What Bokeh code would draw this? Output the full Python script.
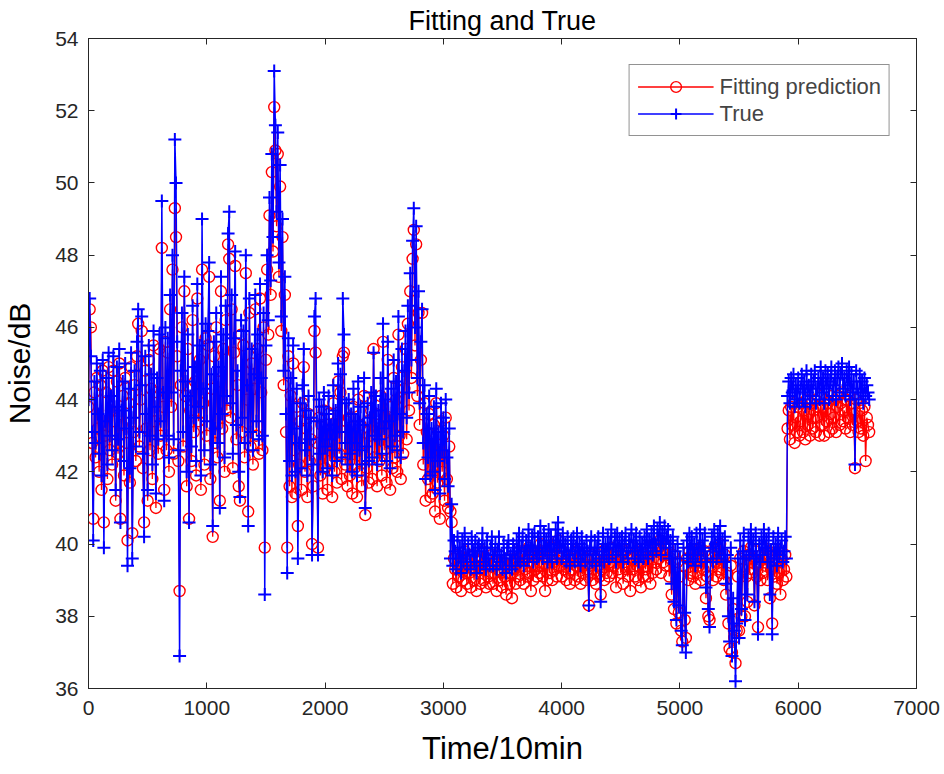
import numpy as np
from bokeh.plotting import figure
from bokeh.models import Range1d, LinearAxis, SingleIntervalTicker, Legend, LegendItem
from bokeh.embed import file_html
from bokeh.resources import INLINE

# sampling step of the series (Time/10min units)
time_step = 10

true_vals = [
    44.0, 46.8, 45.2, 43.1, 40.1, 44.5, 42.8, 45.0, 43.6, 42.5,
    44.8, 41.9, 45.1, 39.9, 43.4, 44.6, 42.2, 45.3, 43.0, 44.1,
    42.6, 45.2, 43.8, 41.5, 44.9, 42.9, 45.4, 40.6, 43.7, 44.5,
    42.3, 45.0, 43.2, 39.4, 44.3, 42.1, 45.3, 39.6, 43.5, 44.8,
    42.7, 45.6, 46.5, 43.1, 44.4, 46.3, 42.5, 40.2, 45.2, 43.6,
    41.5, 45.5, 43.0, 44.7, 42.2, 45.9, 43.8, 41.4, 44.6, 42.9,
    45.8, 43.4, 49.5, 44.2, 41.2, 46.0, 43.0, 45.7, 42.4, 46.9,
    44.2, 48.0, 42.9, 51.2, 50.0, 45.6, 42.6, 36.9, 44.8, 46.4,
    43.1, 47.4, 44.5, 42.0, 45.8, 40.6, 44.1, 42.7, 46.6, 43.5,
    44.9, 42.3, 47.2, 43.8, 45.5, 41.9, 49.0, 44.3, 42.6, 46.1,
    43.4, 45.9, 47.8, 42.2, 44.7, 40.5, 45.6, 43.2, 46.4, 42.8,
    44.9, 41.0, 47.4, 43.6, 45.8, 42.4, 46.6, 44.1, 48.6, 49.2,
    43.9, 46.9, 42.5, 45.7, 48.1, 43.3, 44.8, 42.0, 41.3, 46.2,
    43.5, 45.9, 42.8, 48.0, 44.4, 40.5, 46.8, 43.1, 45.4, 42.6,
    44.7, 46.9, 43.4, 45.8, 42.9, 47.2, 44.6, 43.0, 46.4, 38.6,
    45.5, 48.0, 46.2, 49.6, 47.3, 50.8, 48.5, 53.1, 51.6, 49.2,
    51.4, 47.8, 50.5, 46.3, 49.0, 44.8, 47.4, 43.6, 39.2, 45.7,
    42.3, 44.6, 41.9, 45.5, 43.2, 42.0, 44.3, 39.6, 42.8, 43.9,
    42.1, 44.4, 45.4, 42.6, 43.7, 41.9, 44.1, 42.9, 43.5, 39.7,
    42.2, 46.3, 46.8, 43.4, 39.7, 44.0, 42.5, 43.8, 42.0, 44.2,
    42.7, 43.6, 42.1, 44.1, 42.9, 43.3, 41.9, 44.4, 42.6, 43.7,
    42.3, 45.0, 43.1, 44.7, 42.4, 46.8, 45.8, 42.8, 43.9, 42.2,
    44.0, 42.5, 43.6, 42.0, 44.3, 42.8, 43.4, 41.9, 44.5, 42.6,
    43.8, 42.2, 43.3, 44.6, 41.0, 42.7, 43.9, 42.3, 43.5, 44.2,
    42.4, 45.3, 43.0, 44.1, 42.2, 43.7, 42.9, 44.6, 42.5, 46.1,
    43.2, 44.0, 42.3, 45.6, 43.4, 42.1, 44.3, 42.7, 45.1, 43.0,
    44.5, 42.6, 46.3, 43.6, 42.4, 45.4, 43.1, 44.8, 45.9, 43.5,
    46.6, 44.2, 47.5, 45.1, 48.4, 49.3, 46.0, 48.8, 44.6, 47.0,
    43.9, 45.6, 46.5, 42.8, 44.4, 41.8, 43.6, 42.4, 44.1, 41.9,
    43.2, 42.0, 43.8, 41.5, 44.3, 42.3, 43.1, 41.4, 43.9, 42.6,
    43.5, 41.8, 44.0, 42.4, 41.6, 43.2, 39.6, 41.1, 39.4, 40.1,
    39.8, 39.3, 40.2, 39.6, 39.9, 39.2, 40.1, 39.5, 40.3, 39.7,
    39.4, 40.0, 39.7, 39.3, 40.2, 39.8, 39.5, 40.1, 39.2, 39.9,
    40.0, 39.4, 39.8, 40.3, 39.5, 39.9, 39.3, 40.1, 39.6, 39.4,
    39.9, 40.2, 39.4, 39.7, 40.0, 39.3, 39.8, 40.2, 39.5, 39.7,
    39.3, 40.0, 39.6, 39.2, 39.9, 40.1, 39.4, 39.7, 39.3, 40.0,
    39.8, 39.4, 40.1, 39.6, 40.3, 39.5, 39.9, 40.2, 39.4, 39.8,
    40.1, 39.6, 40.4, 39.7, 39.9, 40.2, 39.5, 40.3, 39.8, 39.6,
    40.2, 39.7, 40.5, 39.9, 39.6, 40.3, 39.8, 40.1, 39.5, 40.4,
    39.7, 40.2, 39.5, 40.0, 39.8, 40.4, 39.6, 40.6, 39.9, 40.1,
    39.6, 40.3, 39.8, 40.0, 39.5, 40.2, 39.7, 39.4, 40.1, 39.8,
    40.2, 39.5, 39.9, 40.3, 39.6, 40.0, 39.4, 40.2, 39.7, 39.9,
    39.5, 40.1, 39.8, 38.3, 39.9, 40.2, 39.5, 39.7, 40.1, 39.4,
    39.9, 40.2, 39.6, 38.4, 39.8, 40.3, 39.5, 40.0, 39.7, 40.2,
    39.6, 40.0, 40.4, 39.7, 39.9, 40.2, 39.5, 40.3, 39.8, 40.1,
    39.7, 40.2, 39.5, 40.0, 40.3, 39.8, 39.6, 40.1, 39.9, 40.4,
    39.8, 40.1, 39.6, 40.3, 39.9, 39.5, 40.2, 39.7, 40.0, 39.6,
    40.2, 39.8, 40.4, 39.6, 40.1, 39.9, 40.3, 39.7, 40.5, 40.0,
    39.8, 40.4, 40.1, 40.6, 39.7, 40.3, 40.0, 40.5, 39.9, 40.2,
    40.4, 39.6, 40.1, 38.9, 40.2, 38.4, 39.8, 37.9, 40.0, 38.3,
    39.6, 37.6, 37.2, 39.9, 38.1, 37.0, 40.1, 39.5, 40.3, 39.7,
    40.2, 39.6, 40.0, 39.4, 40.3, 39.7, 39.9, 40.4, 39.5, 40.1,
    39.8, 40.3, 38.8, 39.6, 38.2, 37.7, 39.9, 40.2, 39.5, 40.4,
    40.0, 39.6, 40.3, 39.8, 40.5, 39.7, 40.1, 39.5, 40.2, 38.9,
    39.7, 38.0, 37.3, 39.9, 36.9, 38.5, 37.6, 36.2, 37.8, 39.6,
    37.4, 40.1, 38.2, 39.8, 40.3, 37.9, 39.6, 38.6, 40.2, 39.7,
    40.4, 39.8, 40.1, 38.4, 40.3, 39.6, 37.5, 40.0, 39.5, 40.2,
    39.7, 40.4, 39.9, 40.1, 39.5, 40.3, 38.6, 39.8, 37.5, 40.2,
    39.6, 40.0, 39.4, 40.3, 39.7, 39.9, 40.1, 39.5, 39.8, 40.2,
    39.6, 44.1, 44.5, 43.9, 44.6, 44.2, 44.7, 43.8, 44.4, 44.0,
    44.6, 43.9, 44.3, 44.7, 44.0, 44.5, 43.8, 44.8, 44.2, 44.4,
    43.9, 44.7, 44.1, 44.5, 44.8, 43.9, 44.3, 44.6, 44.0, 44.9,
    44.2, 44.6, 43.9, 44.8, 44.3, 44.7, 44.0, 44.5, 44.9, 44.1,
    44.4, 44.8, 44.0, 44.6, 44.9, 44.2, 44.7, 45.0, 44.3, 44.6,
    44.1, 44.8, 44.4, 44.9, 44.0, 44.7, 44.2, 44.5, 42.2, 44.8,
    44.3, 44.0, 44.7, 44.2, 44.5, 43.9, 44.6, 44.1, 44.4, 44.2,
    44.0,
]

fit_vals = [
    43.8, 46.5, 46.0, 42.8, 40.7, 44.2, 42.4, 44.6, 43.2, 42.0,
    44.4, 41.5, 44.8, 40.6, 43.0, 44.2, 41.8, 44.9, 42.6, 43.7,
    42.2, 44.8, 43.4, 41.2, 44.5, 42.5, 45.0, 40.7, 43.3, 44.1,
    41.9, 44.6, 42.8, 40.1, 43.9, 41.7, 44.9, 40.3, 43.1, 44.4,
    42.3, 45.2, 46.1, 42.7, 44.0, 45.9, 42.1, 40.6, 44.8, 43.2,
    41.2, 45.1, 42.6, 44.3, 41.8, 45.5, 43.4, 41.0, 44.2, 42.5,
    45.4, 43.0, 48.2, 43.8, 41.5, 45.6, 42.6, 45.3, 42.0, 46.5,
    43.8, 47.6, 42.5, 49.3, 48.5, 45.2, 42.3, 38.7, 44.4, 46.0,
    42.7, 47.0, 44.1, 41.6, 45.4, 40.7, 43.7, 42.3, 46.2, 43.1,
    44.5, 41.9, 46.8, 43.4, 45.1, 41.5, 47.6, 43.9, 42.2, 45.7,
    43.0, 45.5, 47.4, 41.8, 44.3, 40.2, 45.2, 42.8, 46.0, 42.4,
    44.5, 41.2, 47.0, 43.2, 45.4, 42.0, 46.2, 43.7, 48.3, 47.9,
    43.5, 46.5, 42.1, 45.3, 47.7, 42.9, 44.4, 41.6, 41.2, 45.8,
    43.1, 45.5, 42.4, 47.5, 44.0, 40.9, 46.4, 42.7, 45.0, 42.2,
    44.3, 46.5, 43.0, 45.4, 42.5, 46.8, 44.2, 42.6, 46.0, 39.9,
    45.1, 47.6, 45.8, 49.1, 46.9, 50.3, 48.1, 52.1, 50.9, 48.8,
    50.8, 47.4, 49.9, 45.9, 48.5, 44.4, 46.9, 43.1, 39.9, 45.2,
    41.6, 44.1, 41.3, 45.0, 42.6, 41.4, 43.8, 40.5, 42.2, 43.4,
    41.5, 43.9, 44.9, 42.0, 43.2, 41.3, 43.6, 42.3, 42.9, 40.0,
    41.6, 45.9, 45.3, 42.8, 39.9, 43.5, 41.9, 43.3, 41.4, 43.7,
    42.1, 43.1, 41.5, 43.6, 42.3, 42.8, 41.3, 43.9, 42.0, 43.2,
    41.7, 44.5, 42.5, 44.2, 41.8, 45.2, 45.3, 42.2, 43.4, 41.6,
    43.5, 41.9, 43.1, 41.4, 43.8, 42.2, 42.9, 41.3, 44.0, 42.0,
    43.3, 41.6, 42.8, 44.1, 40.8, 42.1, 43.4, 41.7, 43.0, 43.7,
    41.8, 45.4, 42.4, 43.6, 41.6, 43.2, 42.3, 44.1, 41.9, 45.6,
    42.6, 43.5, 41.7, 45.1, 42.8, 41.5, 43.8, 42.1, 44.6, 42.4,
    44.0, 42.0, 45.8, 43.0, 41.8, 44.9, 42.5, 44.3, 45.4, 42.9,
    46.1, 43.7, 47.0, 44.6, 47.9, 48.7, 45.5, 48.3, 44.1, 46.4,
    43.3, 45.1, 46.4, 42.2, 43.9, 41.2, 43.1, 41.8, 43.6, 41.3,
    42.6, 41.4, 43.3, 40.9, 43.9, 41.7, 42.6, 40.7, 43.4, 42.0,
    43.0, 41.2, 43.5, 41.8, 41.0, 42.7, 40.9, 40.6, 38.9, 39.6,
    39.3, 38.8, 39.7, 39.1, 39.4, 38.7, 39.6, 39.0, 39.8, 39.2,
    38.9, 39.5, 39.2, 38.8, 39.7, 39.3, 39.0, 39.6, 38.7, 39.4,
    39.5, 38.9, 39.3, 39.8, 39.0, 39.4, 38.8, 39.6, 39.1, 38.9,
    39.4, 39.7, 38.9, 39.2, 39.5, 38.7, 39.3, 39.7, 39.0, 39.2,
    38.8, 39.5, 39.1, 38.6, 39.4, 39.6, 38.9, 39.2, 38.5, 39.5,
    39.3, 38.9, 39.6, 39.1, 39.8, 39.0, 39.4, 39.7, 38.9, 39.3,
    39.6, 39.1, 39.9, 39.2, 38.7, 39.7, 39.0, 39.8, 39.3, 39.1,
    39.7, 39.2, 40.0, 39.4, 39.1, 39.8, 38.7, 39.6, 39.0, 39.9,
    39.2, 39.7, 39.0, 39.5, 39.3, 39.9, 39.1, 40.1, 39.4, 39.6,
    39.1, 39.8, 39.3, 39.5, 39.0, 39.7, 39.2, 38.9, 39.6, 39.3,
    39.7, 39.0, 39.4, 39.8, 39.1, 39.5, 38.9, 39.7, 39.2, 39.4,
    39.0, 39.6, 39.3, 38.3, 39.4, 39.7, 39.0, 39.2, 39.6, 38.9,
    39.4, 39.7, 39.1, 38.6, 39.3, 39.8, 39.0, 39.5, 39.2, 39.7,
    39.1, 39.5, 39.9, 39.2, 39.4, 39.7, 38.8, 39.8, 39.3, 39.6,
    39.2, 39.7, 38.9, 39.5, 39.8, 39.3, 39.1, 39.6, 38.7, 39.9,
    39.3, 39.6, 39.1, 39.8, 39.4, 39.0, 39.7, 38.8, 39.5, 39.1,
    39.7, 39.3, 39.9, 39.1, 39.6, 38.9, 39.8, 39.2, 40.0, 39.5,
    39.3, 39.9, 39.6, 40.1, 39.2, 39.8, 39.5, 40.0, 39.4, 39.7,
    39.9, 39.1, 39.6, 38.6, 39.7, 38.2, 39.3, 37.8, 39.5, 38.1,
    39.1, 37.6, 37.3, 39.4, 37.9, 37.4, 39.6, 39.0, 39.8, 39.2,
    39.7, 39.1, 39.5, 38.9, 39.8, 39.2, 39.4, 39.9, 39.0, 39.6,
    39.3, 39.8, 38.5, 39.1, 38.0, 37.9, 39.4, 39.7, 39.0, 39.9,
    39.5, 39.1, 39.8, 39.3, 40.0, 39.2, 39.6, 39.0, 39.7, 38.6,
    39.2, 37.8, 37.1, 39.4, 37.0, 38.2, 37.4, 36.7, 37.6, 39.1,
    37.6, 39.6, 38.0, 39.3, 39.8, 38.0, 39.1, 38.4, 39.7, 39.2,
    39.9, 39.3, 39.6, 38.3, 39.8, 39.1, 37.7, 39.5, 39.0, 39.7,
    39.2, 39.9, 39.4, 39.6, 39.0, 39.8, 38.5, 39.3, 37.8, 39.7,
    39.1, 39.5, 38.9, 39.8, 39.2, 38.6, 39.6, 39.0, 39.3, 39.7,
    39.1, 43.2, 43.7, 42.9, 43.8, 43.3, 43.9, 42.8, 43.5, 43.1,
    43.8, 43.0, 43.4, 43.9, 43.1, 43.7, 42.9, 44.0, 43.3, 43.6,
    43.0, 43.9, 43.2, 43.7, 44.0, 43.1, 43.5, 43.8, 43.0, 44.1,
    43.3, 43.8, 43.0, 44.0, 43.4, 43.9, 43.1, 43.6, 44.1, 43.2,
    43.5, 44.0, 43.1, 43.8, 44.1, 43.3, 43.9, 44.2, 43.4, 43.7,
    43.2, 44.0, 43.5, 44.1, 43.1, 43.9, 43.3, 43.6, 42.1, 44.0,
    43.4, 43.1, 43.9, 43.2, 43.7, 43.0, 43.8, 42.3, 43.5, 43.3,
    43.1,
]

time_vals = np.arange(len(true_vals)) * time_step

title_text = "Fitting and True"
x_label = "Time/10min"
y_label = "Noise/dB"
legend_labels = ["Fitting prediction", "True"]

FONT = "Liberation Sans, Arial, sans-serif"
AXC = "#262626"

W, H = 944, 774
p = figure(width=W, height=H, output_backend="svg", toolbar_location=None,
           x_range=Range1d(0, 7000), y_range=Range1d(36, 54),
           min_border_left=88, min_border_right=28, min_border_top=37, min_border_bottom=86)
p.xgrid.visible = False
p.ygrid.visible = False
p.outline_line_color = AXC
p.outline_line_width = 1

p.title.text = title_text
p.title.align = "center"
p.title.text_font = FONT
p.title.text_font_size = "27px"
p.title.text_font_style = "normal"
p.title.text_color = "black"
p.title.standoff = 6

for ax in (p.xaxis[0], p.yaxis[0]):
    ax.major_tick_in = 6
    ax.major_tick_out = 0
    ax.minor_tick_in = 0
    ax.minor_tick_out = 0
    ax.axis_line_color = AXC
    ax.major_tick_line_color = AXC
    ax.major_label_text_font = FONT
    ax.major_label_text_font_size = "21px"
    ax.major_label_text_color = AXC
    ax.axis_label_text_font = FONT
    ax.axis_label_text_font_style = "normal"
    ax.axis_label_text_color = "black"
p.xaxis[0].ticker = SingleIntervalTicker(interval=1000)
p.yaxis[0].ticker = SingleIntervalTicker(interval=2)
p.xaxis[0].major_label_standoff = 12
p.yaxis[0].major_label_standoff = 10
p.xaxis[0].axis_label = x_label
p.xaxis[0].axis_label_text_font_size = "31px"
p.xaxis[0].axis_label_standoff = 13
p.yaxis[0].axis_label = y_label
p.yaxis[0].axis_label_text_font_size = "30px"
p.yaxis[0].axis_label_standoff = 16

top_ax = LinearAxis(ticker=SingleIntervalTicker(interval=1000), major_tick_in=6, major_tick_out=0,
                    minor_tick_in=0, minor_tick_out=0, major_label_text_font_size="1px",
                    major_label_text_color=None, major_label_standoff=0,
                    axis_line_color=AXC, major_tick_line_color=AXC)
right_ax = LinearAxis(ticker=SingleIntervalTicker(interval=2), major_tick_in=6, major_tick_out=0,
                      minor_tick_in=0, minor_tick_out=0, major_label_text_font_size="1px",
                      major_label_text_color=None, major_label_standoff=0,
                      axis_line_color=AXC, major_tick_line_color=AXC)
p.add_layout(top_ax, "above")
p.add_layout(right_ax, "right")

r_line = p.line(time_vals, fit_vals, line_color="#ff0000", line_width=1.3)
r_mark = p.scatter(time_vals, fit_vals, marker="circle", size=11, fill_color=None,
                   line_color="#ff0000", line_width=1.4)
b_line = p.line(time_vals, true_vals, line_color="#0000ff", line_width=1.5)
b_mark = p.scatter(time_vals, true_vals, marker="cross", size=13,
                   line_color="#0000ff", line_width=2)

legend = Legend(items=[LegendItem(label=legend_labels[0], renderers=[r_line, r_mark]),
                       LegendItem(label=legend_labels[1], renderers=[b_line, b_mark])],
                location="top_right", margin=26, padding=8, spacing=0,
                glyph_width=76, glyph_height=27, label_height=27, label_standoff=6,
                label_text_font=FONT, label_text_font_size="22px",
                border_line_color=AXC, border_line_width=1,
                background_fill_alpha=1.0)
p.add_layout(legend, "center")

open("out.html", "w").write(file_html(p, INLINE))
